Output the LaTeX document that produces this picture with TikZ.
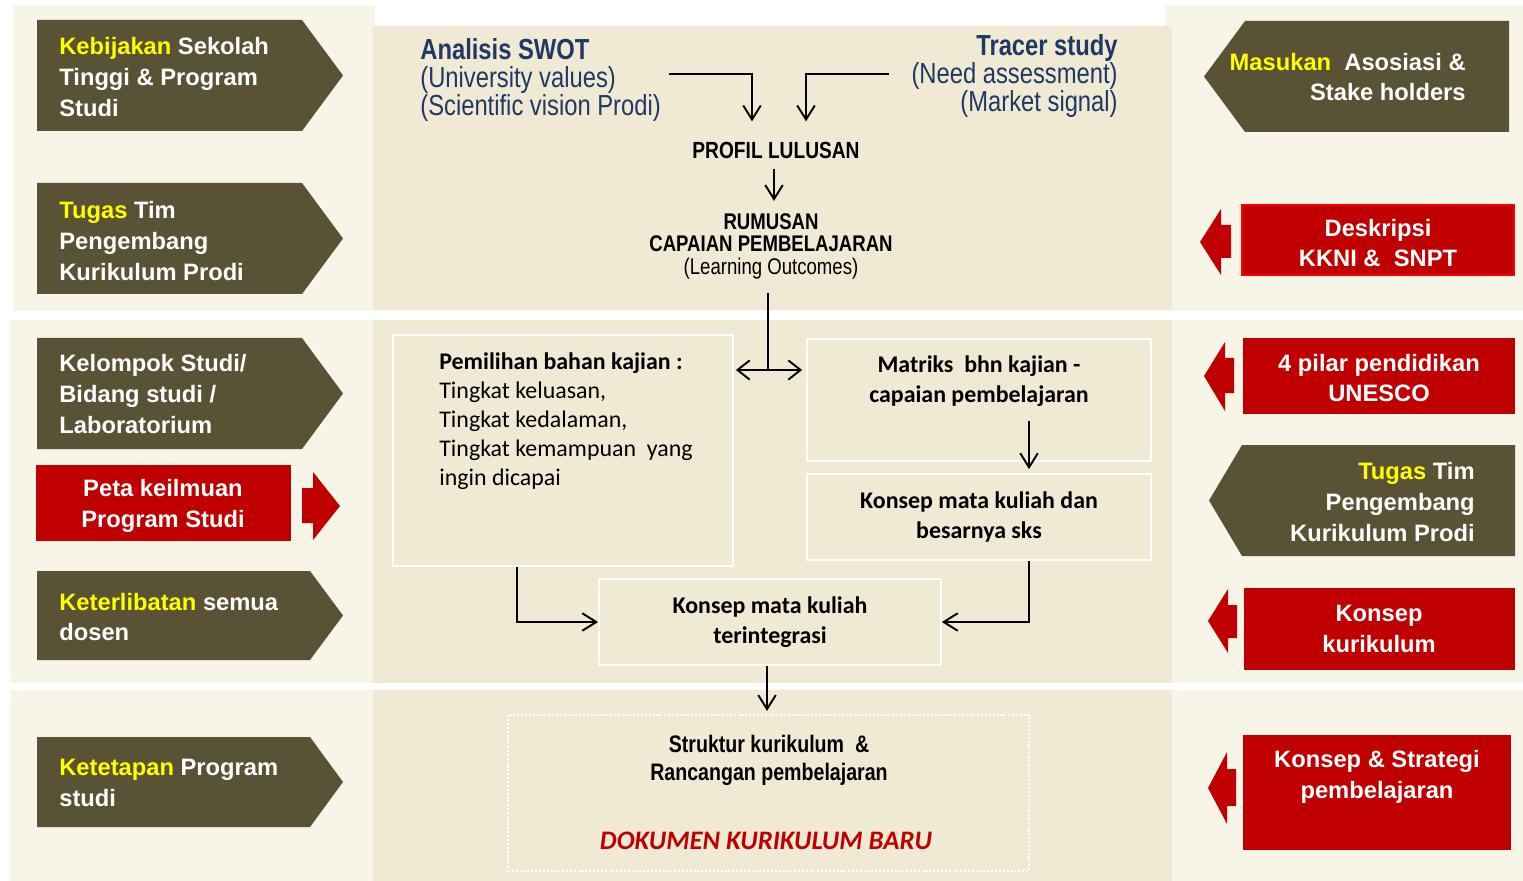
\documentclass[tikz,border=0pt]{standalone}
\usepackage{fontspec}
\newfontfamily\arialfont{Liberation Sans}
\newfontfamily\narrowfont{Liberation Sans}[FakeStretch=0.82]
\newfontfamily\califont{Carlito}
\usetikzlibrary{arrows.meta,calc,fit,positioning}
\definecolor{sidecream}{RGB}{247,244,232}
\definecolor{midcream}{RGB}{240,234,212}
\definecolor{olivebox}{RGB}{90,82,52}
\definecolor{redbox}{RGB}{192,0,0}
\definecolor{swotblue}{RGB}{31,56,100}
\definecolor{keyyellow}{RGB}{255,255,0}
\begin{document}
\begin{tikzpicture}[x=0.02cm, y=-0.02cm,
tagtext/.style={font=\arialfont\bfseries\fontsize{13.5}{17.6}\selectfont, text=white, inner sep=0pt},
redtag/.style={fill=redbox, inner sep=0pt},
flowbox/.style={draw=white, line width=1pt, fill=midcream, inner sep=0pt},
dokbox/.style={draw=white, densely dotted, line width=1.2pt, inner sep=0pt},
bodytext/.style={font=\califont\fontsize{13.6}{16.5}\selectfont, inner sep=0pt},
boldtext/.style={font=\califont\bfseries\fontsize{13.6}{17}\selectfont, align=center, inner sep=0pt},
narrowtext/.style={font=\narrowfont\fontsize{16.5}{16}\selectfont, text=swotblue, inner sep=0pt},
conn/.style={-{Straight Barb[length=8pt,width=10pt]}, line width=1.1pt},
]
    \useasboundingbox (0,0) rectangle (1523,881);
    % background bands
    \fill[sidecream] (13,6) rectangle (375,311);
    \fill[sidecream] (1165,6) rectangle (1523,311);
    \fill[midcream] (373,26) rectangle (1172,310);
    \fill[sidecream] (10,320) rectangle (373,683);
    \fill[sidecream] (1172,320) rectangle (1523,683);
    \fill[midcream] (373,320) rectangle (1172,683);
    \fill[sidecream] (10,690) rectangle (373,881);
    \fill[sidecream] (1172,690) rectangle (1523,881);
    \fill[midcream] (373,690) rectangle (1172,881);

    % left side
    \fill[olivebox] (37,20) -- (302,20) -- (343,75.5) -- (302,131) -- (37,131) -- cycle;
    \node[tagtext, anchor=west, align=left] (kebijakan) at (59,77) {\textcolor{keyyellow}{Kebijakan} Sekolah\\Tinggi \& Program\\Studi};
    \fill[olivebox] (37,183) -- (302,183) -- (343,238.5) -- (302,294) -- (37,294) -- cycle;
    \node[tagtext, anchor=west, align=left] (tugaskiri) at (59,241) {\textcolor{keyyellow}{Tugas} Tim\\Pengembang\\Kurikulum Prodi};
    \fill[olivebox] (37,338) -- (302,338) -- (343,393.5) -- (302,449) -- (37,449) -- cycle;
    \node[tagtext, anchor=west, align=left] (kelompok) at (59,394) {Kelompok Studi/\\Bidang studi /\\Laboratorium};
    \node[redtag, fit={(36,465) (291,541)}] (petabox) {};
    \node[tagtext, align=center] (peta) at (163,506) {Peta keilmuan\\Program Studi};
    \fill[redbox] (302,488) -- (313,488) -- (313,472) -- (340,506) -- (313,540) -- (313,523) -- (302,523) -- cycle;
    \fill[olivebox] (37,571) -- (310,571) -- (343,615.5) -- (310,660) -- (37,660) -- cycle;
    \node[tagtext, anchor=west, align=left] (keterlibatan) at (59,617) {\textcolor{keyyellow}{Keterlibatan} semua\\dosen};
    \fill[olivebox] (37,737) -- (310,737) -- (343,782) -- (310,827) -- (37,827) -- cycle;
    \node[tagtext, anchor=west, align=left] (ketetapan) at (59,783) {\textcolor{keyyellow}{Ketetapan} Program\\studi};

    % right side
    \fill[olivebox] (1509,21) -- (1245,21) -- (1204,76.5) -- (1245,132) -- (1509,132) -- cycle;
    \node[tagtext, anchor=east, align=right] (masukan) at (1466,77) {\textcolor{keyyellow}{Masukan}\ \ Asosiasi \&\\Stake holders};
    \node[redtag, draw=red, line width=1pt, fit={(1242,205) (1514,275)}] (deskripsibox) {};
    \node[tagtext, align=center] (deskripsi) at (1378,243) {Deskripsi\\KKNI \&\ \ SNPT};
    \fill[redbox] (1231,225) -- (1221,225) -- (1221,209) -- (1200,242) -- (1221,275) -- (1221,258) -- (1231,258) -- cycle;
    \node[redtag, fit={(1243,338) (1515,414)}] (pilarbox) {};
    \node[tagtext, align=center] (pilar) at (1379,378) {4 pilar pendidikan\\UNESCO};
    \fill[redbox] (1234,358) -- (1225,358) -- (1225,342) -- (1204,376) -- (1225,411) -- (1225,393) -- (1234,393) -- cycle;
    \fill[olivebox] (1515,445) -- (1242,445) -- (1209,500.5) -- (1242,556) -- (1515,556) -- cycle;
    \node[tagtext, anchor=east, align=right] (tugaskanan) at (1475,502) {\textcolor{keyyellow}{Tugas} Tim\\Pengembang\\Kurikulum Prodi};
    \node[redtag, fit={(1244,588) (1515,670)}] (konsepkurbox) {};
    \node[tagtext, align=center] (konsepkur) at (1379,629) {Konsep\\kurikulum};
    \fill[redbox] (1237,605) -- (1228,605) -- (1228,589) -- (1208,621) -- (1228,653) -- (1228,638) -- (1237,638) -- cycle;
    \node[redtag, fit={(1243,735) (1511,850)}] (strategibox) {};
    \node[tagtext, align=center] (strategi) at (1377,777) {Konsep \& Strategi\\pembelajaran};
    \fill[redbox] (1236,769) -- (1227,769) -- (1227,752) -- (1208,788) -- (1227,824) -- (1227,806) -- (1236,806) -- cycle;

    % center flow
    \node[narrowtext, anchor=west, align=left] (swot) at (420,80) {\textbf{Analisis SWOT}\\(University values)\\(Scientific vision Prodi)};
    \node[narrowtext, anchor=east, align=right] (tracer) at (1118,76) {\textbf{Tracer study}\\(Need assessment)\\(Market signal)};
    \node[font=\narrowfont\bfseries\fontsize{13.3}{14}\selectfont, inner sep=0pt] (profil) at (776,150) {PROFIL LULUSAN};
    \node[font=\narrowfont\fontsize{12.9}{12.8}\selectfont, align=center, inner sep=0pt] (rumusan) at (771,246) {\textbf{RUMUSAN}\\\textbf{CAPAIAN PEMBELAJARAN}\\(Learning Outcomes)};

    \node[flowbox, fit={(393,335) (733,566)}] (pemilihan) {};
    \node[bodytext, anchor=west, align=left] (bahan) at (439,421) {\textbf{Pemilihan bahan kajian :}\\Tingkat keluasan,\\Tingkat kedalaman,\\Tingkat kemampuan\ \ yang\\ingin dicapai};
    \node[flowbox, fit={(807,339) (1151,461)}] (matriks) {};
    \node[boldtext] (matriksteks) at (979,381) {Matriks\ \ bhn kajian -\\capaian pembelajaran};
    \node[flowbox, fit={(807,474) (1151,560)}] (konsepsks) {};
    \node[boldtext] (sksteks) at (979,517) {Konsep mata kuliah dan\\besarnya sks};
    \node[flowbox, fit={(599,579) (941,665)}] (integrasi) {};
    \node[boldtext] (integrasiteks) at (770,622) {Konsep mata kuliah\\terintegrasi};
    \node[dokbox, fit={(508,715) (1029,871)}] (dokumen) {};
    \node[font=\narrowfont\bfseries\fontsize{13.6}{16}\selectfont, align=center, inner sep=0pt] (struktur) at (769,760) {Struktur kurikulum\ \ \&\\Rancangan pembelajaran};
    \node[font=\califont\bfseries\itshape\fontsize{15.2}{16}\selectfont, text=redbox, inner sep=0pt] (dokumenbaru) at (766,841) {DOKUMEN KURIKULUM BARU};

    \coordinate (fork) at (768,370);
    \draw[conn] (swot.east) ++(8,-6) -| ($(profil.north)+(-24,-20)$);
    \draw[conn] (tracer.west) ++(-22,-2) -| ($(profil.north)+(30,-20)$);
    \draw[conn] ($(profil.south)+(-2,10)$) -- ($(rumusan.north)+(3,-12)$);
    \draw[line width=1.1pt] ($(rumusan.south)+(-3,14)$) -- (fork);
    \draw[{Straight Barb[length=7pt,width=11pt]}-{Straight Barb[length=7pt,width=11pt]}, line width=1.1pt] ($(pemilihan.east |- fork)+(2,0)$) -- ($(matriks.west |- fork)+(-4,0)$);
    \draw[conn] ($(matriks.south)+(50,-41)$) -- ($(konsepsks.north)+(50,-4)$);
    \draw[conn] ($(pemilihan.south)+(-46,0)$) |- (integrasi.west);
    \draw[conn] ($(konsepsks.south)+(50,0)$) |- (integrasi.east);
    \draw[conn] ($(integrasi.south)+(-3,0)$) -- ($(integrasi.south |- dokumen.north)+(-3,-3)$);
\end{tikzpicture}
\end{document}
